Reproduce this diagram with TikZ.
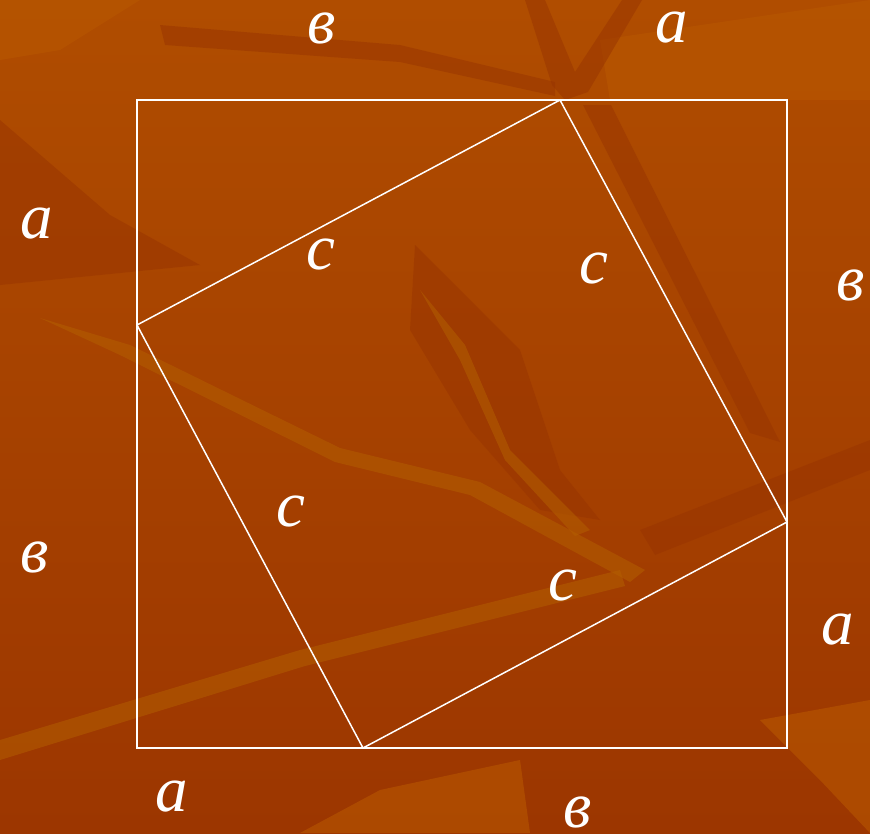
\documentclass[tikz,border=0pt]{standalone}
\usepackage{fontspec}
\setmainfont{Liberation Serif}
\usetikzlibrary{calc}
\definecolor{bgtop}{HTML}{B04D00}
\definecolor{bgbot}{HTML}{9C3600}
\definecolor{streakdark}{HTML}{983400}
\definecolor{streaklight}{HTML}{B35E00}
\definecolor{patchlight}{HTML}{B85700}
\begin{document}
\begin{tikzpicture}[x=1pt,y=-1pt,
    lbl/.style={text=white, font=\fontsize{65}{65}\selectfont\itshape, inner sep=0pt},
    side/.style={draw=white, line width=1.8pt},
    dark/.style={fill=streakdark, opacity=0.5},
    light/.style={fill=streaklight, opacity=0.55},
    patch/.style={fill=patchlight, opacity=0.6}]
    % background
    \shade[top color=bgtop, bottom color=bgbot] (0,0) rectangle (870,833);
    \useasboundingbox (0,0) rectangle (870,833);
    \fill[patch] (600,40) -- (870,0) -- (870,100) -- (610,100) -- cycle;
    \fill[patch] (0,0) -- (140,0) -- (60,50) -- (0,60) -- cycle;
    \fill[patch] (300,833) -- (380,790) -- (520,760) -- (530,833) -- cycle;
    \fill[patch] (760,720) -- (870,700) -- (870,833) -- (820,780) -- cycle;
    \fill[dark] (0,120) -- (110,215) -- (200,265) -- (0,285) -- cycle;
    \fill[dark] (160,25) -- (400,45) -- (555,82) -- (555,96) -- (400,62) -- (165,45) -- cycle;
    \fill[dark] (525,0) -- (545,0) -- (575,72) -- (622,0) -- (642,0) -- (588,92) -- (565,100) -- (552,85) -- cycle;
    \fill[dark] (583,105) -- (611,105) -- (780,442) -- (750,433) -- cycle;
    \fill[dark] (870,440) -- (870,470) -- (655,555) -- (640,530) -- cycle;
    \fill[dark] (415,245) -- (480,310) -- (520,350) -- (560,470) -- (600,520) -- (540,510) -- (470,430) -- (410,330) -- cycle;
    \fill[light] (40,318) -- (130,345) -- (340,448) -- (480,482) -- (645,570) -- (630,582) -- (470,495) -- (335,462) -- (120,355) -- cycle;
    \fill[light] (0,740) -- (300,650) -- (620,570) -- (625,586) -- (305,666) -- (0,760) -- cycle;
    \fill[light] (420,290) -- (465,345) -- (510,450) -- (590,530) -- (575,536) -- (505,460) -- (460,360) -- cycle;
    % outer square
    \coordinate (TL) at (137,100);
    \coordinate (TR) at (787,100);
    \coordinate (BR) at (787,748);
    \coordinate (BL) at (137,748);
    \path[side] (TL) -- (TR) -- (BR) -- (BL) -- cycle;
    % inner square
    \coordinate (P) at (560,100);
    \coordinate (Q) at (787,522);
    \coordinate (R) at (363,748);
    \coordinate (S) at (137,325);
    \path[side, line width=1.5pt] (P) -- (Q) -- (R) -- (S) -- cycle;
    % labels
    \node[lbl] (topb) at (322,28) {в};
    \node[lbl] (topa) at (672,28) {a};
    \node[lbl] (lefta) at (37,224) {a};
    \node[lbl] (leftb) at (35,557) {в};
    \node[lbl] (rightb) at (851,285) {в};
    \node[lbl] (righta) at (838,630) {a};
    \node[lbl] (bota) at (172,797) {a};
    \node[lbl] (botb) at (578,812) {в};
    \node[lbl] (c1) at (321,254) {c};
    \node[lbl] (c2) at (594,268) {c};
    \node[lbl] (c3) at (291,511) {c};
    \node[lbl] (c4) at (563,585) {c};
\end{tikzpicture}
\end{document}
